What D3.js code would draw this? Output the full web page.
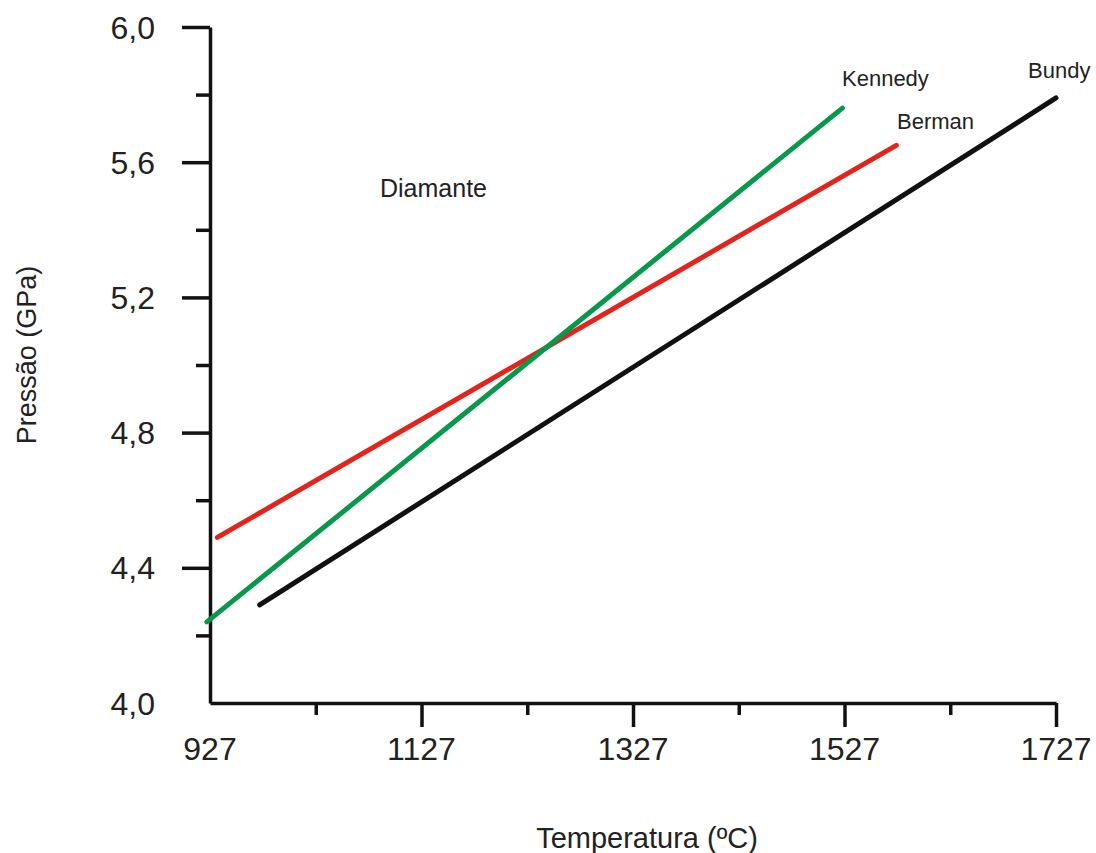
<!DOCTYPE html>
<html>
<head>
<meta charset="utf-8">
<script src="https://cdn.jsdelivr.net/npm/d3@7"></script>
<style>
  body { margin: 0; background: #fff; }
  svg { font-family: 'Liberation Sans', Arial, sans-serif; }
</style>
</head>
<body>
<svg id="chart"></svg>
<script>
// curves: temperature (ºC) and pressure (GPa) at their two ends
const kennedyT = [924, 1525];
const kennedyP = [4.24, 5.76];
const bermanT = [934, 1576];
const bermanP = [4.49, 5.65];
const bundyT = [974, 1727];
const bundyP = [4.29, 5.79];

const xMajor = [1127, 1327, 1527, 1727];
const xMinor = [1027, 1227, 1427, 1627];
const xLabels = [927, 1127, 1327, 1527, 1727];
const yMajor = [4.4, 4.8, 5.2, 5.6, 6.0];
const yMinor = [4.2, 4.6, 5.0, 5.4, 5.8];
const yLabels = [4.0, 4.4, 4.8, 5.2, 5.6, 6.0];

const width = 1096;
const height = 853;

const svg = d3.select('#chart').attr('width', width).attr('height', height);

const xScale = d3.scaleLinear().domain([927, 1727]).range([210, 1056]);
const yScale = d3.scaleLinear().domain([4.0, 6.0]).range([703, 27]);

const comma = (v) => d3.format('.1f')(v).replace('.', ',');

// x axis: domain line + ticks
const xAxisG = svg.append('g').attr('transform', 'translate(0,' + yScale(4.0) + ')');
xAxisG.call(d3.axisBottom(xScale).tickValues(xMajor).tickSize(24).tickSizeOuter(0).tickFormat(''));
xAxisG.append('g').call(d3.axisBottom(xScale).tickValues(xMinor).tickSize(12).tickSizeOuter(0).tickFormat(''))
  .select('.domain').remove();
xAxisG.selectAll('path, line').attr('stroke', '#111').attr('stroke-width', 3.5);

svg.append('g')
  .selectAll('text')
  .data(xLabels)
  .enter()
  .append('text')
  .attr('x', (d) => xScale(d))
  .attr('y', 760)
  .attr('text-anchor', 'middle')
  .style('font-size', '32px')
  .attr('fill', '#222')
  .text((d) => d);

// y axis
const yAxisG = svg.append('g').attr('transform', 'translate(' + xScale(927) + ',0)');
yAxisG.call(d3.axisLeft(yScale).tickValues(yMajor).tickSize(28).tickSizeOuter(0).tickFormat(''));
yAxisG.append('g').call(d3.axisLeft(yScale).tickValues(yMinor).tickSize(14).tickSizeOuter(0).tickFormat(''))
  .select('.domain').remove();
yAxisG.selectAll('path, line').attr('stroke', '#111').attr('stroke-width', 3.5);

svg.append('g')
  .selectAll('text')
  .data(yLabels)
  .enter()
  .append('text')
  .attr('x', 155)
  .attr('y', (d) => yScale(d))
  .attr('dy', '0.36em')
  .attr('text-anchor', 'end')
  .style('font-size', '32px')
  .attr('fill', '#222')
  .text((d) => comma(d));

// axis titles
svg.append('text')
  .attr('x', 647)
  .attr('y', 848)
  .attr('text-anchor', 'middle')
  .style('font-size', '29px')
  .attr('fill', '#222')
  .text('Temperatura (ºC)');

svg.append('text')
  .attr('transform', 'translate(36,355) rotate(-90)')
  .attr('text-anchor', 'middle')
  .style('font-size', '27px')
  .attr('fill', '#222')
  .text('Pressão (GPa)');

// lines
const line = d3.line()
  .x((d) => xScale(d[0]))
  .y((d) => yScale(d[1]));

const series = [
  { t: bermanT, p: bermanP, color: '#e2241c' },
  { t: bundyT, p: bundyP, color: '#111111' },
  { t: kennedyT, p: kennedyP, color: '#07984a' },
];

series.forEach((s) => {
  svg.append('path')
    .datum(d3.zip(s.t, s.p))
    .attr('d', line)
    .attr('fill', 'none')
    .attr('stroke', s.color)
    .attr('stroke-width', 5)
    .attr('stroke-linecap', 'round');
});

// labels on the plot
const notes = [
  { text: 'Kennedy', x: 842, y: 86, size: 22 },
  { text: 'Berman', x: 897, y: 129, size: 22 },
  { text: 'Bundy', x: 1028, y: 78, size: 22 },
  { text: 'Diamante', x: 380, y: 197, size: 25 },
];

svg.append('g')
  .selectAll('text')
  .data(notes)
  .enter()
  .append('text')
  .attr('x', (d) => d.x)
  .attr('y', (d) => d.y)
  .style('font-size', (d) => d.size + 'px')
  .attr('fill', '#222')
  .text((d) => d.text);
</script>
</body>
</html>
